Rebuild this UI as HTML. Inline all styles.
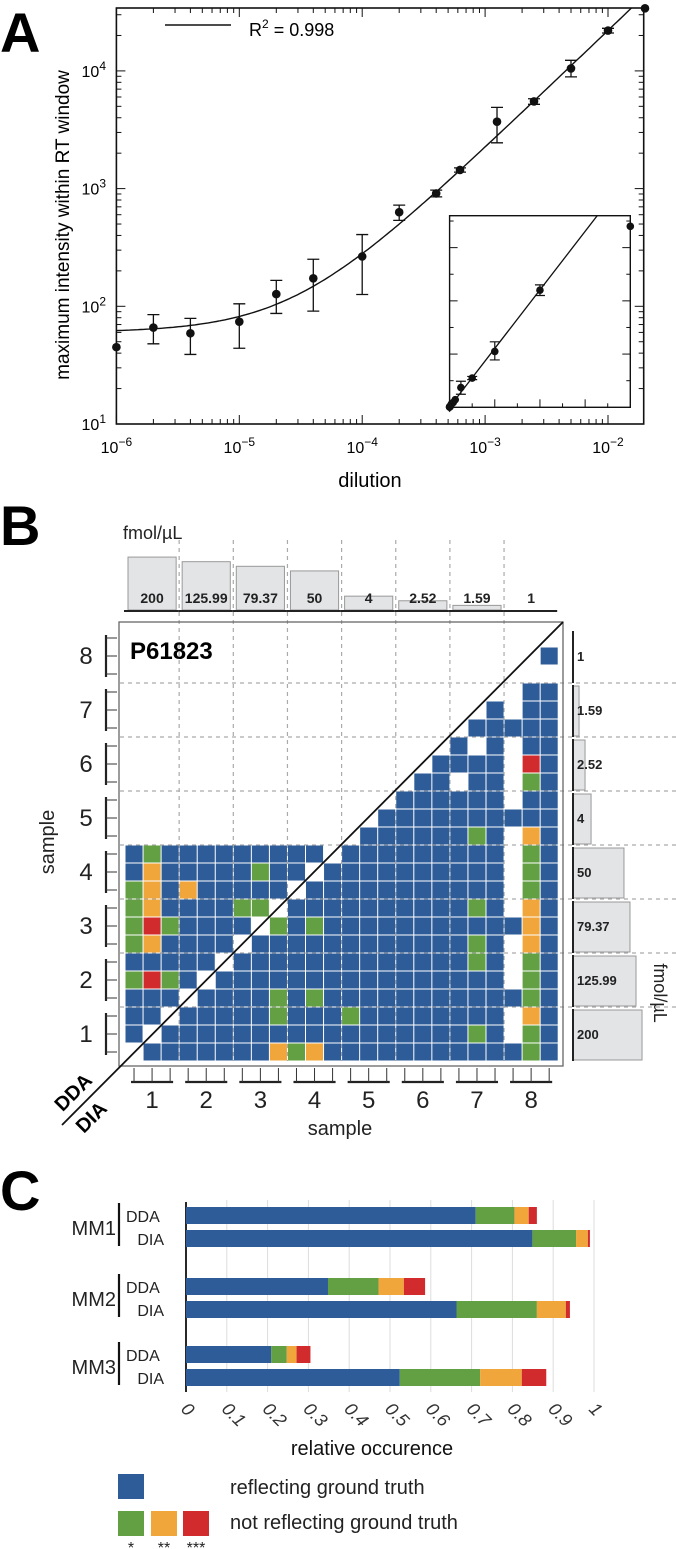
<!DOCTYPE html>
<html><head><meta charset="utf-8"><style>
body{margin:0;background:#fff;}
svg{display:block;font-family:"Liberation Sans",sans-serif;}
</style></head><body>
<svg id="fig" width="676" height="1549" viewBox="0 0 676 1549" xmlns="http://www.w3.org/2000/svg">
<g id="pa"></g>
<g id="pb"></g>
<g id="pc"></g>
</svg>
<script>
// ---------- Panel A data ----------
const dilution = [1e-6,2e-6,4e-6,1e-5,2e-5,4e-5,1e-4,2e-4,4e-4,6.25e-4,1.25e-3,2.5e-3,5e-3,1e-2,2e-2];
const intensity = [45,66,59,74,127,173,265,630,910,1440,3700,5500,10500,22000,34000];
const errLow = [45,48,39,44,87,91,126,537,850,1380,2450,5200,8900,21000,34000];
const errHigh = [45,85,79,105,166,251,407,724,970,1500,4900,5800,12300,23000,34000];
const fitBaseline = 60;
const fitSlope = 2.2e6;
const xTickExp = [-6,-5,-4,-3,-2];
const yTickExp = [1,2,3,4];
// ---------- Panel B data ----------
const concentrations = [200,125.99,79.37,50,4,2.52,1.59,1];
const concLabels = ["200","125.99","79.37","50","4","2.52","1.59","1"];
const sampleLabels = ["1","2","3","4","5","6","7","8"];
const matrixRows = [
"........................",
".......................b",
"........................",
"......................bb",
"....................b.bb",
"...................bbbbb",
"..................b.b.bb",
".................bbbb.rb",
"................bb.bb.gb",
"...............bbbbbb.bb",
"..............bbbbbbbbbb",
".............bbbbbbgb.ob",
"bgbbbbbbbbb.bbbbbbbbb.gb",
"bobbbbbgbb.bbbbbbbbbb.gb",
"gobobbbbb.bbbbbbbbbbb.gb",
"gobbbbgg.bbbbbbbbbbgb.ob",
"grgbbbb.gbgbbbbbbbbbbbob",
"gobbbb.bbbbbbbbbbbbgb.ob",
"bbbbb.bbbbbbbbbbbbbgb.gb",
"grgb.bbbbbbbbbbbbbbbb.gb",
"bbb.bbbbgbgbbbbbbbbbbbgb",
"bb.bbbbbgbbbgbbbbbbbb.ob",
"b.bbbbbbbbbbbbbbbbbgb.gb",
".bbbbbbbogobbbbbbbbbbbgb"
];
// ---------- Panel C data ----------
const groups = ["MM1","MM2","MM3"];
const methods = ["DDA","DIA"];
const segTruth = [0.71,0.849,0.348,0.663,0.209,0.524];
const segStar1 = [0.095,0.107,0.124,0.197,0.038,0.197];
const segStar2 = [0.035,0.029,0.062,0.071,0.024,0.102];
const segStar3 = [0.02,0.005,0.052,0.010,0.034,0.060];
const cTicks = ["0","0.1","0.2","0.3","0.4","0.5","0.6","0.7","0.8","0.9","1"];

const NS="http://www.w3.org/2000/svg";
function el(parent,tag,attrs,text){const e=document.createElementNS(NS,tag);for(const k in attrs)e.setAttribute(k,attrs[k]);if(text!==undefined)e.textContent=text;parent.appendChild(e);return e;}
const COL={b:"#2d5c99",g:"#62a043",o:"#f0a63a",r:"#d12b2e"};

// ================= PANEL A =================
(function(){
const g=document.getElementById('pa');
const L=116.4,R=643.7,T=8,B=424,XD=122.9,YD=117.7;
const xs=v=>L+(Math.log10(v)+6)*XD;
const ys=v=>B-(Math.log10(v)-1)*YD;
let t=el(g,'text',{x:0,y:52,'font-size':56,'font-weight':'bold'},'A');

let fr=el(g,'rect',{x:L,y:T,width:R-L,height:B-T,fill:'none',stroke:'#111','stroke-width':1.6});

xTickExp.forEach(e=>{
  const x=xs(Math.pow(10,e));
  el(g,'line',{x1:x,y1:B,x2:x,y2:B-9,stroke:'#111','stroke-width':1});
  el(g,'line',{x1:x,y1:T,x2:x,y2:T+9,stroke:'#111','stroke-width':1});
  const lb=el(g,'text',{x:x,y:453,'font-size':16,'text-anchor':'middle'});
  
  el(lb,'tspan',{},'10');el(lb,'tspan',{dy:-7,'font-size':12},'−'+Math.abs(e));
  for(let m=2;m<=9;m++){const xm=xs(m*Math.pow(10,e));if(xm<R){
    el(g,'line',{x1:xm,y1:B,x2:xm,y2:B-5,stroke:'#111','stroke-width':1});
    el(g,'line',{x1:xm,y1:T,x2:xm,y2:T+5,stroke:'#111','stroke-width':1});}}
});
yTickExp.forEach(e=>{
  const y=ys(Math.pow(10,e));
  el(g,'line',{x1:L,y1:y,x2:L+9,y2:y,stroke:'#111','stroke-width':1});
  el(g,'line',{x1:R,y1:y,x2:R-9,y2:y,stroke:'#111','stroke-width':1});
  const lb=el(g,'text',{x:106,y:y+6,'font-size':16,'text-anchor':'end'});
  
  el(lb,'tspan',{},'10');el(lb,'tspan',{dy:-7,'font-size':12},String(e));
  for(let m=2;m<=9;m++){const ym=ys(m*Math.pow(10,e));if(ym>T){
    el(g,'line',{x1:L,y1:ym,x2:L+5,y2:ym,stroke:'#111','stroke-width':1});
    el(g,'line',{x1:R,y1:ym,x2:R-5,y2:ym,stroke:'#111','stroke-width':1});}}
});
let xl=el(g,'text',{x:370,y:487,'font-size':20,'text-anchor':'middle'},'dilution');

let yl=el(g,'text',{x:0,y:0,'font-size':19,'text-anchor':'middle',transform:'translate(69,225) rotate(-90)'},'maximum intensity within RT window');

let ll=el(g,'line',{x1:165,y1:25,x2:231,y2:25,stroke:'#111','stroke-width':1.5});

let lt=el(g,'text',{x:249,y:36,'font-size':18});

el(lt,'tspan',{},'R');el(lt,'tspan',{dy:-8,'font-size':12},'2');el(lt,'tspan',{dy:8},' = 0.998');
const defs=el(g,'defs',{});
const cp=el(defs,'clipPath',{id:'clipA'});el(cp,'rect',{x:L,y:T,width:R-L,height:B-T});
let d='';for(let i=0;i<=200;i++){const lx=-6+i*(4.4/200);const xv=Math.pow(10,lx);const yv=fitBaseline+fitSlope*xv;d+=(i?'L':'M')+xs(xv).toFixed(1)+','+ys(yv).toFixed(1);}
let fc=el(g,'path',{d:d,fill:'none',stroke:'#111','stroke-width':1.4,'clip-path':'url(#clipA)'});

dilution.forEach((dv,i)=>{
  const x=xs(dv);
  if(errHigh[i]!==errLow[i]){
    const eb=el(g,'path',{d:`M${x},${ys(errHigh[i])}V${ys(errLow[i])}M${x-6},${ys(errHigh[i])}H${x+6}M${x-6},${ys(errLow[i])}H${x+6}`,stroke:'#111','stroke-width':1.3,fill:'none'});
    
  }
  const p=el(g,'circle',{cx:x,cy:ys(intensity[i]),r:4.3,fill:'#111'});
  
});
const IL=449.6,IR=630.3,IT=215.7,IB=407.3,IXMAX=0.02,IYMAX=36000;
const ixs=v=>IL+v/IXMAX*(IR-IL), iys=v=>IB-v/IYMAX*(IB-IT);
let inr=el(g,'rect',{x:IL,y:IT,width:IR-IL,height:IB-IT,fill:'#fff',stroke:'#111','stroke-width':1.4});

const icp=el(defs,'clipPath',{id:'clipI'});el(icp,'rect',{x:IL,y:IT,width:IR-IL,height:IB-IT});
for(let v=5000;v<IYMAX;v+=5000){const y=iys(v);const len=(v%10000===0)?8:4;
  el(g,'line',{x1:IL,y1:y,x2:IL+len,y2:y,stroke:'#111'});el(g,'line',{x1:IR,y1:y,x2:IR-len,y2:y,stroke:'#111'});}
for(let v=0.0025;v<IXMAX;v+=0.0025){const x=ixs(v);const len=(Math.round(v/0.0025)%2===0)?8:4;
  el(g,'line',{x1:x,y1:IB,x2:x,y2:IB-len,stroke:'#111'});}
let il=el(g,'line',{x1:ixs(0),y1:iys(fitBaseline),x2:ixs(0.03),y2:iys(fitBaseline+fitSlope*0.03),stroke:'#111','stroke-width':1.3,'clip-path':'url(#clipI)'});

dilution.forEach((dv,i)=>{
  const x=ixs(dv),y=iys(intensity[i]);
  if(errHigh[i]!==errLow[i]&&dv>1e-3){
    el(g,'path',{d:`M${x},${iys(errHigh[i])}V${iys(errLow[i])}M${x-5},${iys(errHigh[i])}H${x+5}M${x-5},${iys(errLow[i])}H${x+5}`,stroke:'#111','stroke-width':1.2,fill:'none'});
  }
  const p=el(g,'circle',{cx:x,cy:y,r:3.8,fill:'#111'});
  
});
el(g,'path',{d:`M${IL-4},${IB}L${IL},${IB-5}L${IL+4},${IB}L${IL},${IB+5}Z`,fill:'#111'});
})();

// ================= PANEL B =================
(function(){
const g=document.getElementById('pb');
const GX=125,GY=629,CW=18.05,CH=18,SW=CW*3,SH=CH*3;
let t=el(g,'text',{x:0,y:545,'font-size':56,'font-weight':'bold'},'B');

let fu=el(g,'text',{x:123,y:539,'font-size':18,fill:'#222'},'fmol/µL');

for(let k=1;k<8;k++){
  const x=GX+k*SW;
  el(g,'line',{x1:x,y1:540,x2:x,y2:GY+24*CH,stroke:'#aaa','stroke-width':1.2,'stroke-dasharray':'4,4'});
  const y=GY+k*SH;
  el(g,'line',{x1:120,y1:y,x2:676,y2:y,stroke:'#aaa','stroke-width':1.2,'stroke-dasharray':'4,4'});
}
concentrations.forEach((v,i)=>{
  const x0=GX+i*SW+3,h=Math.log10(v)*23;
  if(h>0.5){const b=el(g,'rect',{x:x0,y:610-h,width:SW-6,height:h,fill:'#e2e4e6',stroke:'#999','stroke-width':1});
  }
  const lb=el(g,'text',{x:x0+(SW-6)/2,y:603,'font-size':14,'font-weight':'bold','text-anchor':'middle',fill:'#222'},concLabels[i]);
  
  el(g,'line',{x1:GX+i*SW-1,y1:611,x2:GX+(i+1)*SW-1,y2:611,stroke:'#222','stroke-width':2});
});
concentrations.forEach((v,i)=>{
  const blk=7-i, y0=GY+blk*SH+2, w=Math.log10(v)*30;
  if(w>0.5){const b=el(g,'rect',{x:573,y:y0+1,width:w,height:SH-4,fill:'#e2e4e6',stroke:'#999','stroke-width':1});
  }
  el(g,'line',{x1:573,y1:y0,x2:573,y2:y0+SH-2,stroke:'#222','stroke-width':2});
  const lb=el(g,'text',{x:577,y:y0+SH/2+3,'font-size':13,'font-weight':'bold',fill:'#222'},concLabels[i]);
  
});
let ru=el(g,'text',{x:0,y:0,'font-size':18,fill:'#222','text-anchor':'middle',transform:'translate(654,993) rotate(90)'},'fmol/µL');

matrixRows.forEach((row,r)=>{
  for(let c=0;c<24;c++){const ch=row[c];if(ch==='.')continue;
    const cell=el(g,'rect',{x:GX+c*CW+0.5,y:GY+r*CH+0.5,width:CW-1,height:CH-1,fill:COL[ch]});
    
  }
});
let fr=el(g,'rect',{x:119,y:622,width:444,height:444,fill:'none',stroke:'#666','stroke-width':1.3});

let pid=el(g,'text',{x:130,y:659,'font-size':24,'font-weight':'bold'},'P61823');

let dg=el(g,'line',{x1:563,y1:622,x2:62,y2:1125,stroke:'#111','stroke-width':1.8});

sampleLabels.forEach((s,i)=>{
  const blk=7-i, c0=GY+blk*SH+CH/2, c2=c0+2*CH;
  el(g,'line',{x1:106,y1:c0-3,x2:106,y2:c2+3,stroke:'#222','stroke-width':2.2});
  for(let k=0;k<3;k++)el(g,'line',{x1:106,y1:c0+k*CH,x2:117,y2:c0+k*CH,stroke:'#333','stroke-width':1});
  const lb=el(g,'text',{x:86,y:c0+CH+8,'font-size':24,'text-anchor':'middle',fill:'#222'},s);
  
  const x0=GX+i*SW+CW/2,x2=x0+2*CW;
  el(g,'line',{x1:x0-3,y1:1082,x2:x2+3,y2:1082,stroke:'#222','stroke-width':2.2});
  for(let k=0;k<3;k++)el(g,'line',{x1:x0+k*CW,y1:1068,x2:x0+k*CW,y2:1082,stroke:'#333','stroke-width':1});
  const cl=el(g,'text',{x:x0+CW,y:1108,'font-size':24,'text-anchor':'middle',fill:'#222'},s);
  
});
let sx=el(g,'text',{x:340,y:1135,'font-size':20,'text-anchor':'middle',fill:'#222'},'sample');

let sy=el(g,'text',{x:0,y:0,'font-size':20,'text-anchor':'middle',fill:'#222',transform:'translate(54,842) rotate(-90)'},'sample');

let dda=el(g,'text',{x:0,y:0,'font-size':20,'font-weight':'bold','text-anchor':'middle',transform:'translate(78,1097) rotate(-45)'},'DDA');

let dia=el(g,'text',{x:0,y:0,'font-size':20,'font-weight':'bold','text-anchor':'middle',transform:'translate(96,1122) rotate(-45)'},'DIA');

})();

// ================= PANEL C =================
(function(){
const g=document.getElementById('pc');
const X0=186,XU=408;
const xs=v=>X0+v*XU;
let t=el(g,'text',{x:0,y:1210,'font-size':56,'font-weight':'bold'},'C');

cTicks.forEach((lab,i)=>{
  const v=i/10,x=xs(v);
  if(i>0)el(g,'line',{x1:x,y1:1200,x2:x,y2:1392,stroke:'#ddd','stroke-width':1});
  const tl=el(g,'text',{x:0,y:0,'font-size':18,'font-style':'italic',fill:'#333',transform:`translate(${x-6},${1410}) rotate(45)`},lab);
  
});
el(g,'line',{x1:X0,y1:1202,x2:X0,y2:1392,stroke:'#111','stroke-width':1.8});
const barY=[1207,1230,1278,1301,1346,1369];
const segs=[segTruth,segStar1,segStar2,segStar3];
const segCol=[COL.b,COL.g,COL.o,COL.r];
barY.forEach((y,i)=>{
  let acc=0;
  segs.forEach((arr,k)=>{
    const r=el(g,'rect',{x:xs(acc),y:y,width:arr[i]*XU,height:17,fill:segCol[k]});
    
    acc+=arr[i];
  });
});
groups.forEach((gn,j)=>{
  const y=barY[2*j];
  const lb=el(g,'text',{x:116,y:y+28,'font-size':20,'text-anchor':'end',fill:'#222'},gn);
  
  el(g,'line',{x1:119,y1:y-4,x2:119,y2:y+39,stroke:'#111','stroke-width':2.2});
  const a=el(g,'text',{x:126,y:y+15,'font-size':16,fill:'#222'},methods[0]);
  
  const b=el(g,'text',{x:164,y:y+38,'font-size':16,'text-anchor':'end',fill:'#222'},methods[1]);
  
});
let xt=el(g,'text',{x:372,y:1455,'font-size':20,'text-anchor':'middle',fill:'#111'},'relative occurence');

let s1=el(g,'rect',{x:118,y:1474,width:26,height:25,fill:COL.b});

[[118,COL.g],[151,COL.o],[183,COL.r]].forEach(([x,c])=>{const s=el(g,'rect',{x:x,y:1511,width:26,height:25,fill:c});
 });
let l1=el(g,'text',{x:230,y:1494,'font-size':20,fill:'#222'},'reflecting ground truth');

let l2=el(g,'text',{x:230,y:1529,'font-size':20,fill:'#222'},'not reflecting ground truth');

[[131,'*'],[164,'**'],[196,'***']].forEach(([x,s])=>{const e=el(g,'text',{x:x,y:1553,'font-size':16,'text-anchor':'middle',fill:'#222'},s);
 });
})();
</script>
</body></html>
